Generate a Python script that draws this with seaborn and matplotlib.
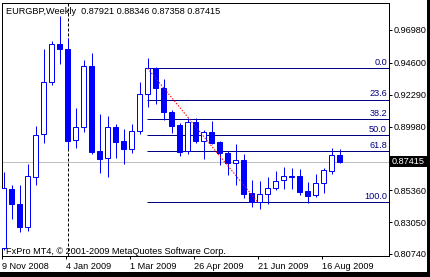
import matplotlib
matplotlib.use("Agg")
import matplotlib.pyplot as plt
from matplotlib.patches import Rectangle
import seaborn as sns
import numpy as np

# ---------------- data ----------------
opens = [0.81175, 0.85474, 0.84387, 0.82698, 0.86344, 0.89419, 0.93188, 0.95987,
         0.95603, 0.89005, 0.89926, 0.94370, 0.88208, 0.87679, 0.89926, 0.88933,
         0.88331, 0.89658, 0.92318, 0.94203, 0.92753, 0.91013, 0.90093, 0.88208,
         0.90288, 0.88954, 0.89564, 0.88838, 0.88063, 0.87316, 0.87555, 0.85141,
         0.84488, 0.85068, 0.85503, 0.86083, 0.86323, 0.86395, 0.85308, 0.85018,
         0.85866, 0.86779, 0.87921]
highs = [0.86685, 0.85721, 0.85721, 0.87265, 0.90020, 0.95603, 0.96183, 0.97995,
         0.96378, 0.91325, 0.94805, 0.95291, 0.90890, 0.90745, 0.90143, 0.89803,
         0.90143, 0.93188, 0.94928, 0.94276, 0.93406, 0.91180, 0.90259, 0.90622,
         0.90578, 0.89730, 0.90383, 0.88933, 0.88230, 0.88715, 0.87968, 0.86105,
         0.86033, 0.86301, 0.86758, 0.87026, 0.86997, 0.86903, 0.85982, 0.86540,
         0.86954, 0.88404, 0.88346]
lows = [0.81030, 0.83300, 0.82335, 0.82408, 0.85743, 0.88809, 0.92993, 0.94515,
        0.88353, 0.88404, 0.89607, 0.87990, 0.86634, 0.86344, 0.87722, 0.87244,
        0.88084, 0.89462, 0.91419, 0.91593, 0.90433, 0.89535, 0.87867, 0.87968,
        0.88809, 0.87628, 0.88694, 0.87193, 0.86468, 0.85743, 0.84822, 0.84169,
        0.83981, 0.84344, 0.85358, 0.85431, 0.85431, 0.85018, 0.84460, 0.84894,
        0.85184, 0.86540, 0.87358]
closes = [0.85525, 0.84387, 0.82698, 0.86373, 0.89368, 0.93232, 0.95965, 0.95624,
          0.88954, 0.89926, 0.94370, 0.88135, 0.87650, 0.89926, 0.88882, 0.88331,
          0.89658, 0.92340, 0.94203, 0.92753, 0.91013, 0.90042, 0.88157, 0.90288,
          0.88954, 0.89564, 0.88809, 0.88084, 0.87316, 0.87534, 0.85112, 0.84488,
          0.85068, 0.85503, 0.86033, 0.86373, 0.86373, 0.85257, 0.84945, 0.85866,
          0.86830, 0.87918, 0.87415]

price_ticks = [0.96980, 0.94600, 0.92290, 0.89980, 0.87670, 0.85360, 0.83050, 0.80740]
date_tick_idx = [0, 8, 16, 24, 32, 40]
date_tick_labels = ["9 Nov 2008", "4 Jan 2009", "1 Mar 2009",
                    "26 Apr 2009", "21 Jun 2009", "16 Aug 2009"]

fib_start_idx, fib_end_idx = 18, 32
fib_high, fib_low = 0.94203, 0.84488
fib_ratios = [0.0, 23.6, 38.2, 50.0, 61.8, 100.0]
last_price = 0.87415
separator_idx = 8
title = "EURGBP,Weekly  0.87921 0.88346 0.87358 0.87415"
footer = "FxPro MT4, \u00a9 2001-2009 MetaQuotes Software Corp."

# ---------------- style ----------------
sns.set_style("white")
plt.rcParams['font.family'] = ['Liberation Sans', 'DejaVu Sans']
plt.rcParams['lines.scale_dashes'] = False
FS = 6.6
W, H = 430, 277
PX = 72 / 100.0  # points per pixel

fig = plt.figure(figsize=(W / 100, H / 100), dpi=100)
fig.patch.set_facecolor("white")
L_px, R_px, T_px, B_px = 1.5, 388.5, 3.0, 256.0
ax = fig.add_axes([L_px / W, 1 - B_px / H, (R_px - L_px) / W, (B_px - T_px) / H])
ax.set_facecolor("white")

# scale: 0.000725 per pixel, 0.96980 at y=30px ; candle i at 3.5 + 8 i px
ppp = 0.000725
ax.set_ylim(0.9698 - (B_px - 30) * ppp, 0.9698 + (30 - T_px) * ppp)
ax.set_xlim((L_px - 3.5) / 8, (R_px - 3.5) / 8)

x = np.arange(len(opens))
o = np.array(opens); c = np.array(closes); h = np.array(highs); l = np.array(lows)
up = c >= o
blue = "#0000FF"
navy = "#000080"

# current price line
sns.lineplot(x=[-1, 60], y=[last_price, last_price], color="#C0C0C0", lw=PX, ax=ax, zorder=1)
# separator
ax.axvline(separator_idx + 0.03, color="black", lw=PX, linestyle=(0, (3 * PX, 2 * PX)), zorder=1)

# fib levels
for r in fib_ratios:
    lvl = fib_high - (fib_high - fib_low) * r / 100.0
    ax.hlines(lvl, fib_start_idx - 0.1, 60, color=navy, lw=PX, zorder=2)
    ax.annotate(f"{r:.1f}", xy=(1, lvl), xycoords=("axes fraction", "data"),
                xytext=(-1.5 * PX, 1.5 * PX), textcoords="offset points",
                ha="right", va="bottom", fontsize=FS, color=navy, zorder=5)

# candles
ax.vlines(x, l, h, color=blue, lw=PX, zorder=3)
bottoms = np.minimum(o, c)
heights = np.maximum(np.abs(c - o), 0.00004)
ax.bar(x[up], heights[up], bottom=bottoms[up], width=0.58, facecolor="white",
       edgecolor=blue, linewidth=PX, zorder=4)
ax.bar(x[~up], heights[~up], bottom=bottoms[~up], width=0.58, facecolor=blue,
       edgecolor=blue, linewidth=PX, zorder=4)

# red dotted trend line
sns.lineplot(x=[fib_start_idx, fib_end_idx - 0.2], y=[fib_high, fib_low], color="red",
             lw=PX, linestyle=(0, (1.5 * PX, 1.5 * PX)), ax=ax, zorder=6)

# axes
for s in ax.spines.values():
    s.set_color("black")
    s.set_linewidth(PX)
    s.set_visible(True)
ax.yaxis.tick_right()
ax.set_yticks(price_ticks)
ax.set_yticklabels([f"{p:.5f}" for p in price_ticks])
ax.set_xticks([i - 0.25 for i in date_tick_idx])
ax.set_xticklabels(date_tick_labels, ha="left")
ax.tick_params(axis="y", right=True, left=False, length=3 * PX, width=PX, color="black",
               pad=2 * PX, labelsize=FS, labelcolor="black")
ax.tick_params(axis="x", bottom=True, length=3 * PX, width=PX, color="black",
               pad=3 * PX, labelsize=FS, labelcolor="black")
for t in ax.get_xticklabels():
    t.set_x(t.get_position()[0])
ax.grid(False)

# texts
fig.text(6 / W, 1 - 11 / H, title, fontsize=FS, color="black", va="center", ha="left")
fig.text(6 / W, 1 - 252 / H, footer, fontsize=FS, color="black", va="center", ha="left")

# current price box
fig.add_artist(Rectangle((390 / W, 1 - 167 / H), 37 / W, 11 / H, transform=fig.transFigure,
                         facecolor="black", edgecolor="none", zorder=10))
fig.text(408.5 / W, 1 - 161.5 / H, f"{last_price:.5f}", fontsize=FS, color="white",
         va="center", ha="center", zorder=11)

# outer black borders (right and bottom)
fig.add_artist(Rectangle((427 / W, 0), 3 / W, 1, transform=fig.transFigure,
                         facecolor="black", edgecolor="none", zorder=10))
fig.add_artist(Rectangle((0, 0), 1, 5 / H, transform=fig.transFigure,
                         facecolor="black", edgecolor="none", zorder=10))

fig.savefig("out.png", dpi=100, facecolor="white")
